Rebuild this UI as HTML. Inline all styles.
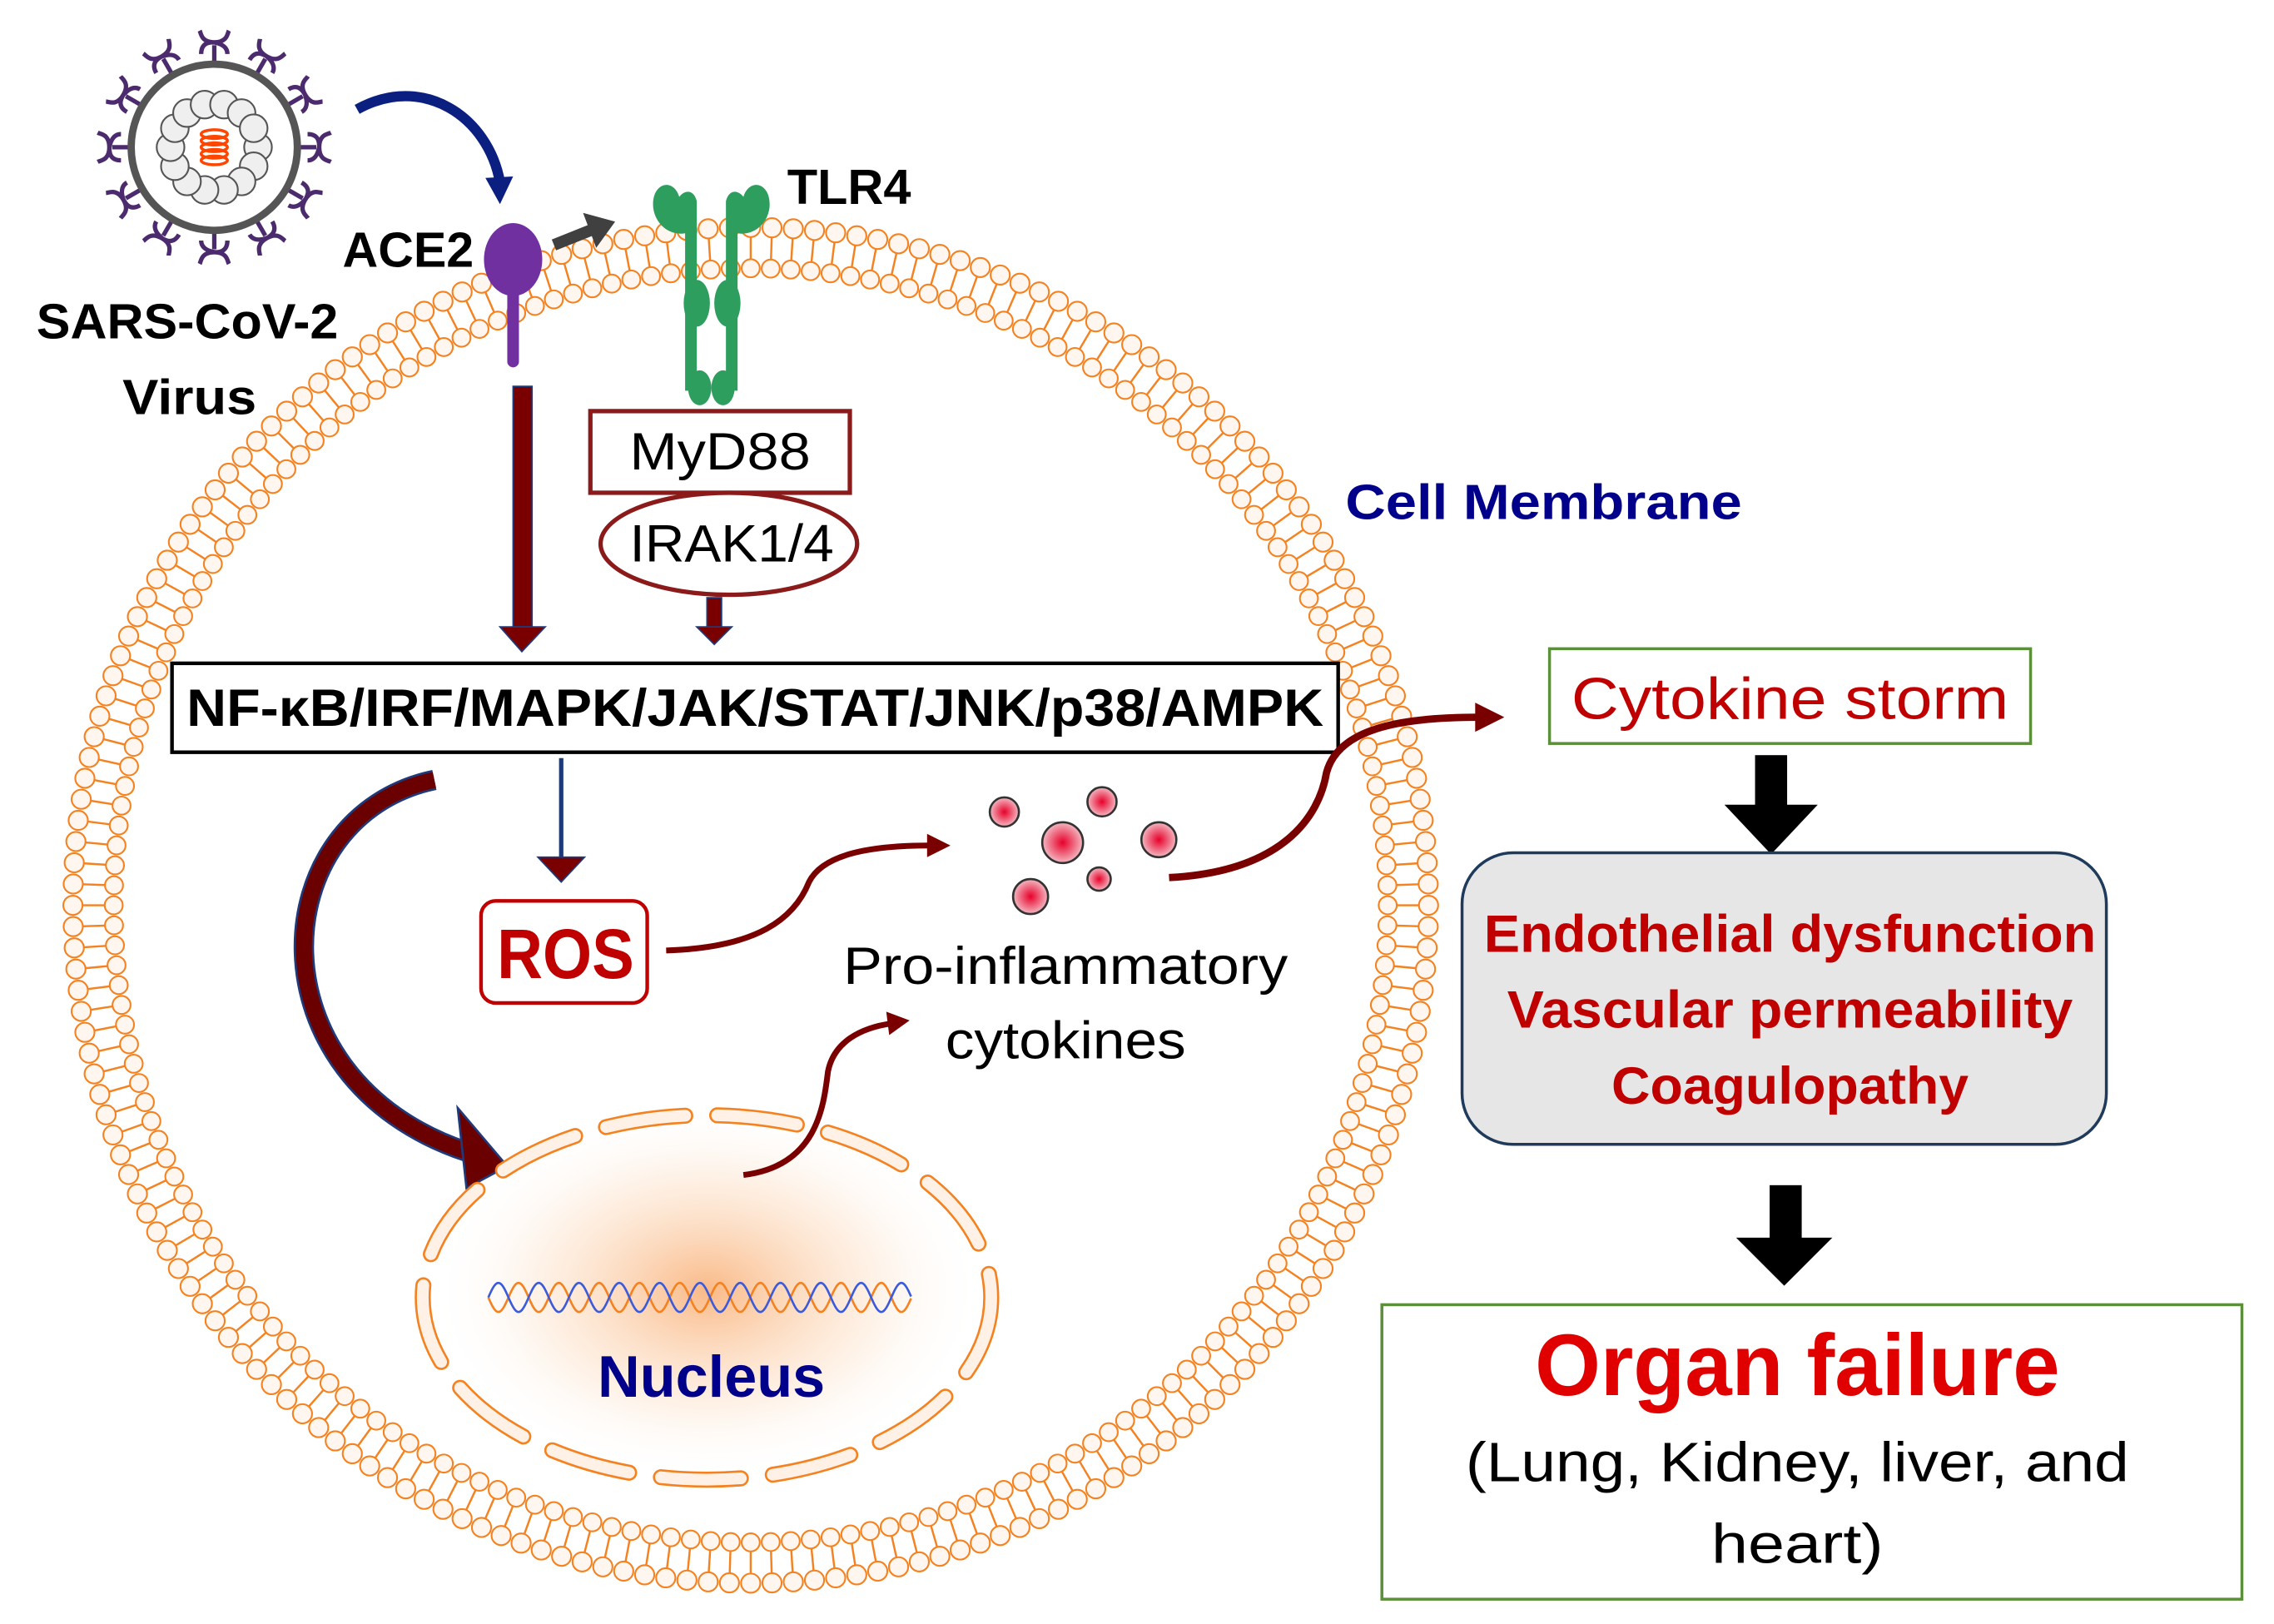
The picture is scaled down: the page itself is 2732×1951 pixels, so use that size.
<!DOCTYPE html>
<html><head><meta charset="utf-8"><style>
html,body{margin:0;padding:0;background:#fff}
svg{display:block}
text{font-family:"Liberation Sans",sans-serif}
</style></head><body>
<svg id="s" width="2732" height="1951" viewBox="0 0 1560 1114" xmlns="http://www.w3.org/2000/svg">
<defs>
<radialGradient id="glow" cx="0.5" cy="0.5" r="0.5">
<stop offset="0" stop-color="#f9b27a" stop-opacity="0.9"/>
<stop offset="0.6" stop-color="#fde3cc" stop-opacity="0.5"/>
<stop offset="1" stop-color="#fff" stop-opacity="0"/>
</radialGradient>
<radialGradient id="dot" cx="0.5" cy="0.5" r="0.5">
<stop offset="0" stop-color="#e8002a"/>
<stop offset="1" stop-color="#f3b9c2"/>
</radialGradient>
</defs>
<g id="mem"></g>
<g id="virus"></g>

<path d="M245,75 C290,50 335,80 343,125" fill="none" stroke="#0b1f80" stroke-width="7"/>
<path d="M333,122 L343,140 L352,121z" fill="#0b1f80"/>

<rect x="348" y="180" width="8" height="72" rx="4" fill="#7030a0"/>
<ellipse cx="352" cy="178" rx="20" ry="25" fill="#7030a0"/>
<text x="235" y="183" font-size="34" font-weight="bold" textLength="90" lengthAdjust="spacingAndGlyphs">ACE2</text>
<path d="M380,168 L405,158" stroke="#404040" stroke-width="8"/>
<path d="M400,146 L422,152 L409,170z" fill="#404040"/>

<g fill="#2e9e5e">
<path d="M448,140 C448,125 462,122 466,135 C470,130 476,130 478,138 L478,268 L470,268 L470,160 C458,162 448,152 448,140z"/>
<path d="M528,140 C528,125 514,122 510,135 C506,130 500,130 498,138 L498,268 L506,268 L506,160 C518,162 528,152 528,140z"/>
<ellipse cx="478" cy="208" rx="9" ry="16"/><ellipse cx="499" cy="208" rx="9" ry="16"/>
<ellipse cx="480" cy="266" rx="8" ry="12"/><ellipse cx="496" cy="266" rx="8" ry="12"/>
</g>
<text x="540" y="140" font-size="34" font-weight="bold" textLength="85" lengthAdjust="spacingAndGlyphs">TLR4</text>

<text x="25" y="232" font-size="34" font-weight="bold" textLength="207" lengthAdjust="spacingAndGlyphs">SARS-CoV-2</text>
<text x="84" y="284" font-size="34" font-weight="bold" textLength="92" lengthAdjust="spacingAndGlyphs">Virus</text>

<rect x="352" y="265" width="13" height="165" fill="#7a0000" stroke="#1f3a7a" stroke-width="1"/>
<path d="M343,430 L374,430 L358,447z" fill="#7a0000" stroke="#1f3a7a" stroke-width="1"/>

<rect x="405" y="282" width="178" height="56" fill="#fff" stroke="#8b1a1a" stroke-width="3"/>
<text x="494" y="322" font-size="36" text-anchor="middle" textLength="124" lengthAdjust="spacingAndGlyphs">MyD88</text>
<ellipse cx="500" cy="373" rx="88" ry="35" fill="#fff" stroke="#8b1a1a" stroke-width="3"/>
<text x="502" y="385" font-size="36" text-anchor="middle" textLength="140" lengthAdjust="spacingAndGlyphs">IRAK1/4</text>
<rect x="485" y="410" width="10" height="22" fill="#7a0000" stroke="#1f3a7a" stroke-width="1"/>
<path d="M478,430 L502,430 L490,442z" fill="#7a0000" stroke="#1f3a7a" stroke-width="1"/>

<rect x="118" y="455" width="800" height="61" fill="#fff" stroke="#000" stroke-width="2.5"/>
<text x="518" y="498" font-size="36" font-weight="bold" text-anchor="middle" textLength="780" lengthAdjust="spacingAndGlyphs">NF-κB/IRF/MAPK/JAK/STAT/JNK/p38/AMPK</text>

<line x1="385" y1="520" x2="385" y2="592" stroke="#1f3a7a" stroke-width="3"/>
<path d="M369,588 L401,588 L385,605z" fill="#7a0000" stroke="#1f3a7a" stroke-width="1"/>
<rect x="330" y="618" width="114" height="70" rx="10" fill="#fff" stroke="#c00000" stroke-width="2.5"/>
<text x="388" y="671" font-size="48" font-weight="bold" fill="#c00000" text-anchor="middle" textLength="94" lengthAdjust="spacingAndGlyphs">ROS</text>

<path d="M298,535 C180,560 170,740 320,790" fill="none" stroke="#1f3a7a" stroke-width="14"/>
<path d="M298,535 C180,560 170,740 320,790" fill="none" stroke="#6b0000" stroke-width="11"/>
<path d="M314,760 L348,800 L320,815z" fill="#6b0000" stroke="#1f3a7a" stroke-width="1.5"/>

<ellipse cx="485" cy="885" rx="190" ry="130" fill="url(#glow)"/>
<ellipse cx="485" cy="890" rx="195" ry="125" fill="none" stroke="#f58220" stroke-width="11" stroke-dasharray="55 22" stroke-linecap="round"/>
<ellipse cx="485" cy="890" rx="195" ry="125" fill="none" stroke="#fff1e6" stroke-width="8" stroke-dasharray="55 22" stroke-linecap="round"/>
<g id="dna"></g>
<text x="488" y="958" font-size="40" font-weight="bold" fill="#00008b" text-anchor="middle" textLength="156" lengthAdjust="spacingAndGlyphs">Nucleus</text>

<path d="M457,652 C520,650 545,630 555,605 C565,585 600,580 638,580" fill="none" stroke="#7a0000" stroke-width="4"/>
<path d="M636,572 L652,580 L636,588z" fill="#7a0000"/>
<path d="M510,806 C560,800 565,760 568,735 C572,715 590,705 612,702" fill="none" stroke="#7a0000" stroke-width="4"/>
<path d="M608,694 L624,700 L610,710z" fill="#7a0000"/>
<path d="M802,602 C880,598 905,560 910,530 C918,500 960,492 1015,492" fill="none" stroke="#7a0000" stroke-width="5"/>
<path d="M1012,482 L1032,492 L1012,502z" fill="#7a0000"/>

<g stroke="#333" stroke-width="1.5" fill="url(#dot)">
<circle cx="689" cy="557" r="10"/><circle cx="756" cy="550" r="10"/>
<circle cx="729" cy="578" r="14"/><circle cx="795" cy="576" r="12"/>
<circle cx="754" cy="603" r="8"/><circle cx="707" cy="615" r="12"/>
</g>
<text x="731" y="675" font-size="36" text-anchor="middle" textLength="305" lengthAdjust="spacingAndGlyphs">Pro-inflammatory</text>
<text x="731" y="726" font-size="36" text-anchor="middle" textLength="165" lengthAdjust="spacingAndGlyphs">cytokines</text>

<text x="923" y="356" font-size="34" font-weight="bold" fill="#00008b" textLength="272" lengthAdjust="spacingAndGlyphs">Cell Membrane</text>

<rect x="1063" y="445" width="330" height="65" fill="#fff" stroke="#5b8f3a" stroke-width="2"/>
<text x="1228" y="493" font-size="40" fill="#c00000" text-anchor="middle" textLength="300" lengthAdjust="spacingAndGlyphs">Cytokine storm</text>
<rect x="1204" y="518" width="22" height="36" fill="#000"/>
<path d="M1183,552 L1247,552 L1215,586z" fill="#000"/>
<rect x="1003" y="585" width="442" height="200" rx="35" fill="#e6e6e6" stroke="#1f3a5a" stroke-width="2"/>
<text x="1228" y="653" font-size="36" font-weight="bold" fill="#c00000" text-anchor="middle" textLength="420" lengthAdjust="spacingAndGlyphs">Endothelial dysfunction</text>
<text x="1228" y="705" font-size="36" font-weight="bold" fill="#c00000" text-anchor="middle" textLength="388" lengthAdjust="spacingAndGlyphs">Vascular permeability</text>
<text x="1228" y="757" font-size="36" font-weight="bold" fill="#c00000" text-anchor="middle" textLength="245" lengthAdjust="spacingAndGlyphs">Coagulopathy</text>
<rect x="1214" y="813" width="22" height="38" fill="#000"/>
<path d="M1191,849 L1257,849 L1224,882z" fill="#000"/>
<rect x="948" y="895" width="590" height="202" fill="#fff" stroke="#5b8f3a" stroke-width="2"/>
<text x="1233" y="957" font-size="60" font-weight="bold" fill="#e00000" text-anchor="middle" textLength="360" lengthAdjust="spacingAndGlyphs">Organ failure</text>
<text x="1233" y="1016" font-size="38" text-anchor="middle" textLength="455" lengthAdjust="spacingAndGlyphs">(Lung, Kidney, liver, and</text>
<text x="1233" y="1072" font-size="38" text-anchor="middle" textLength="118" lengthAdjust="spacingAndGlyphs">heart)</text>
</svg>
<script>
var NS="http://www.w3.org/2000/svg";
function el(p,t,a){var e=document.createElementNS(NS,t);for(var k in a)e.setAttribute(k,a[k]);p.appendChild(e);return e;}
var m=document.getElementById("mem");
var cx=515,cy=621,N=200;
for(var i=0;i<N;i++){var a=i/N*2*Math.PI,c=Math.cos(a),s=Math.sin(a);
 var ro=465,ri=437;
 el(m,"line",{x1:cx+c*(ro-6),y1:cy+s*(ro-6),x2:cx+c*(ri+6),y2:cy+s*(ri+6),stroke:"#f58220","stroke-width":1.4});
 el(m,"circle",{cx:cx+c*ro,cy:cy+s*ro,r:6.6,fill:"#fff6ef",stroke:"#f58220","stroke-width":1.2});
 el(m,"circle",{cx:cx+c*ri,cy:cy+s*ri,r:6.2,fill:"#fff6ef",stroke:"#f58220","stroke-width":1.2});
}
var v=document.getElementById("virus"),vx=147,vy=101;
for(var i=0;i<12;i++){var a=i/12*2*Math.PI,c=Math.cos(a),s=Math.sin(a);
 el(v,"line",{x1:vx+c*50,y1:vy+s*50,x2:vx+c*70,y2:vy+s*70,stroke:"#4b2a6e","stroke-width":3});
 var deg=a*180/Math.PI;
 el(v,"path",{d:"M-8,-9 C0,-9 0,-3 0,0 C0,-3 0,9 -8,9 M0,0 C0,-9 6,-9 8,-10 M0,0 C0,9 6,9 8,10",fill:"none",stroke:"#4b2a6e","stroke-width":3,transform:"translate("+(vx+c*72)+","+(vy+s*72)+") rotate("+deg+")"});
}
el(v,"circle",{cx:vx,cy:vy,r:57,fill:"#fff",stroke:"#555","stroke-width":5});
for(var i=0;i<14;i++){var a=i/14*2*Math.PI;
 el(v,"circle",{cx:vx+Math.cos(a)*30,cy:vy+Math.sin(a)*30,r:9.5,fill:"#efefef",stroke:"#555","stroke-width":1.2});}
for(var j=0;j<5;j++)el(v,"ellipse",{cx:vx,cy:vy-9+j*4.5,rx:9,ry:3,fill:"none",stroke:"#ff4500","stroke-width":2});
var d=document.getElementById("dna"),p1="",p2="";
for(var x=335;x<=625;x+=1){var y=Math.sin((x-335)/4.4)*10;p1+=(x==335?"M":"L")+x+","+(890+y);p2+=(x==335?"M":"L")+x+","+(890-y);}
el(d,"path",{d:p1,fill:"none",stroke:"#f58220","stroke-width":1.5});
el(d,"path",{d:p2,fill:"none",stroke:"#3b5bdb","stroke-width":1.5});
</script>
</body></html>
